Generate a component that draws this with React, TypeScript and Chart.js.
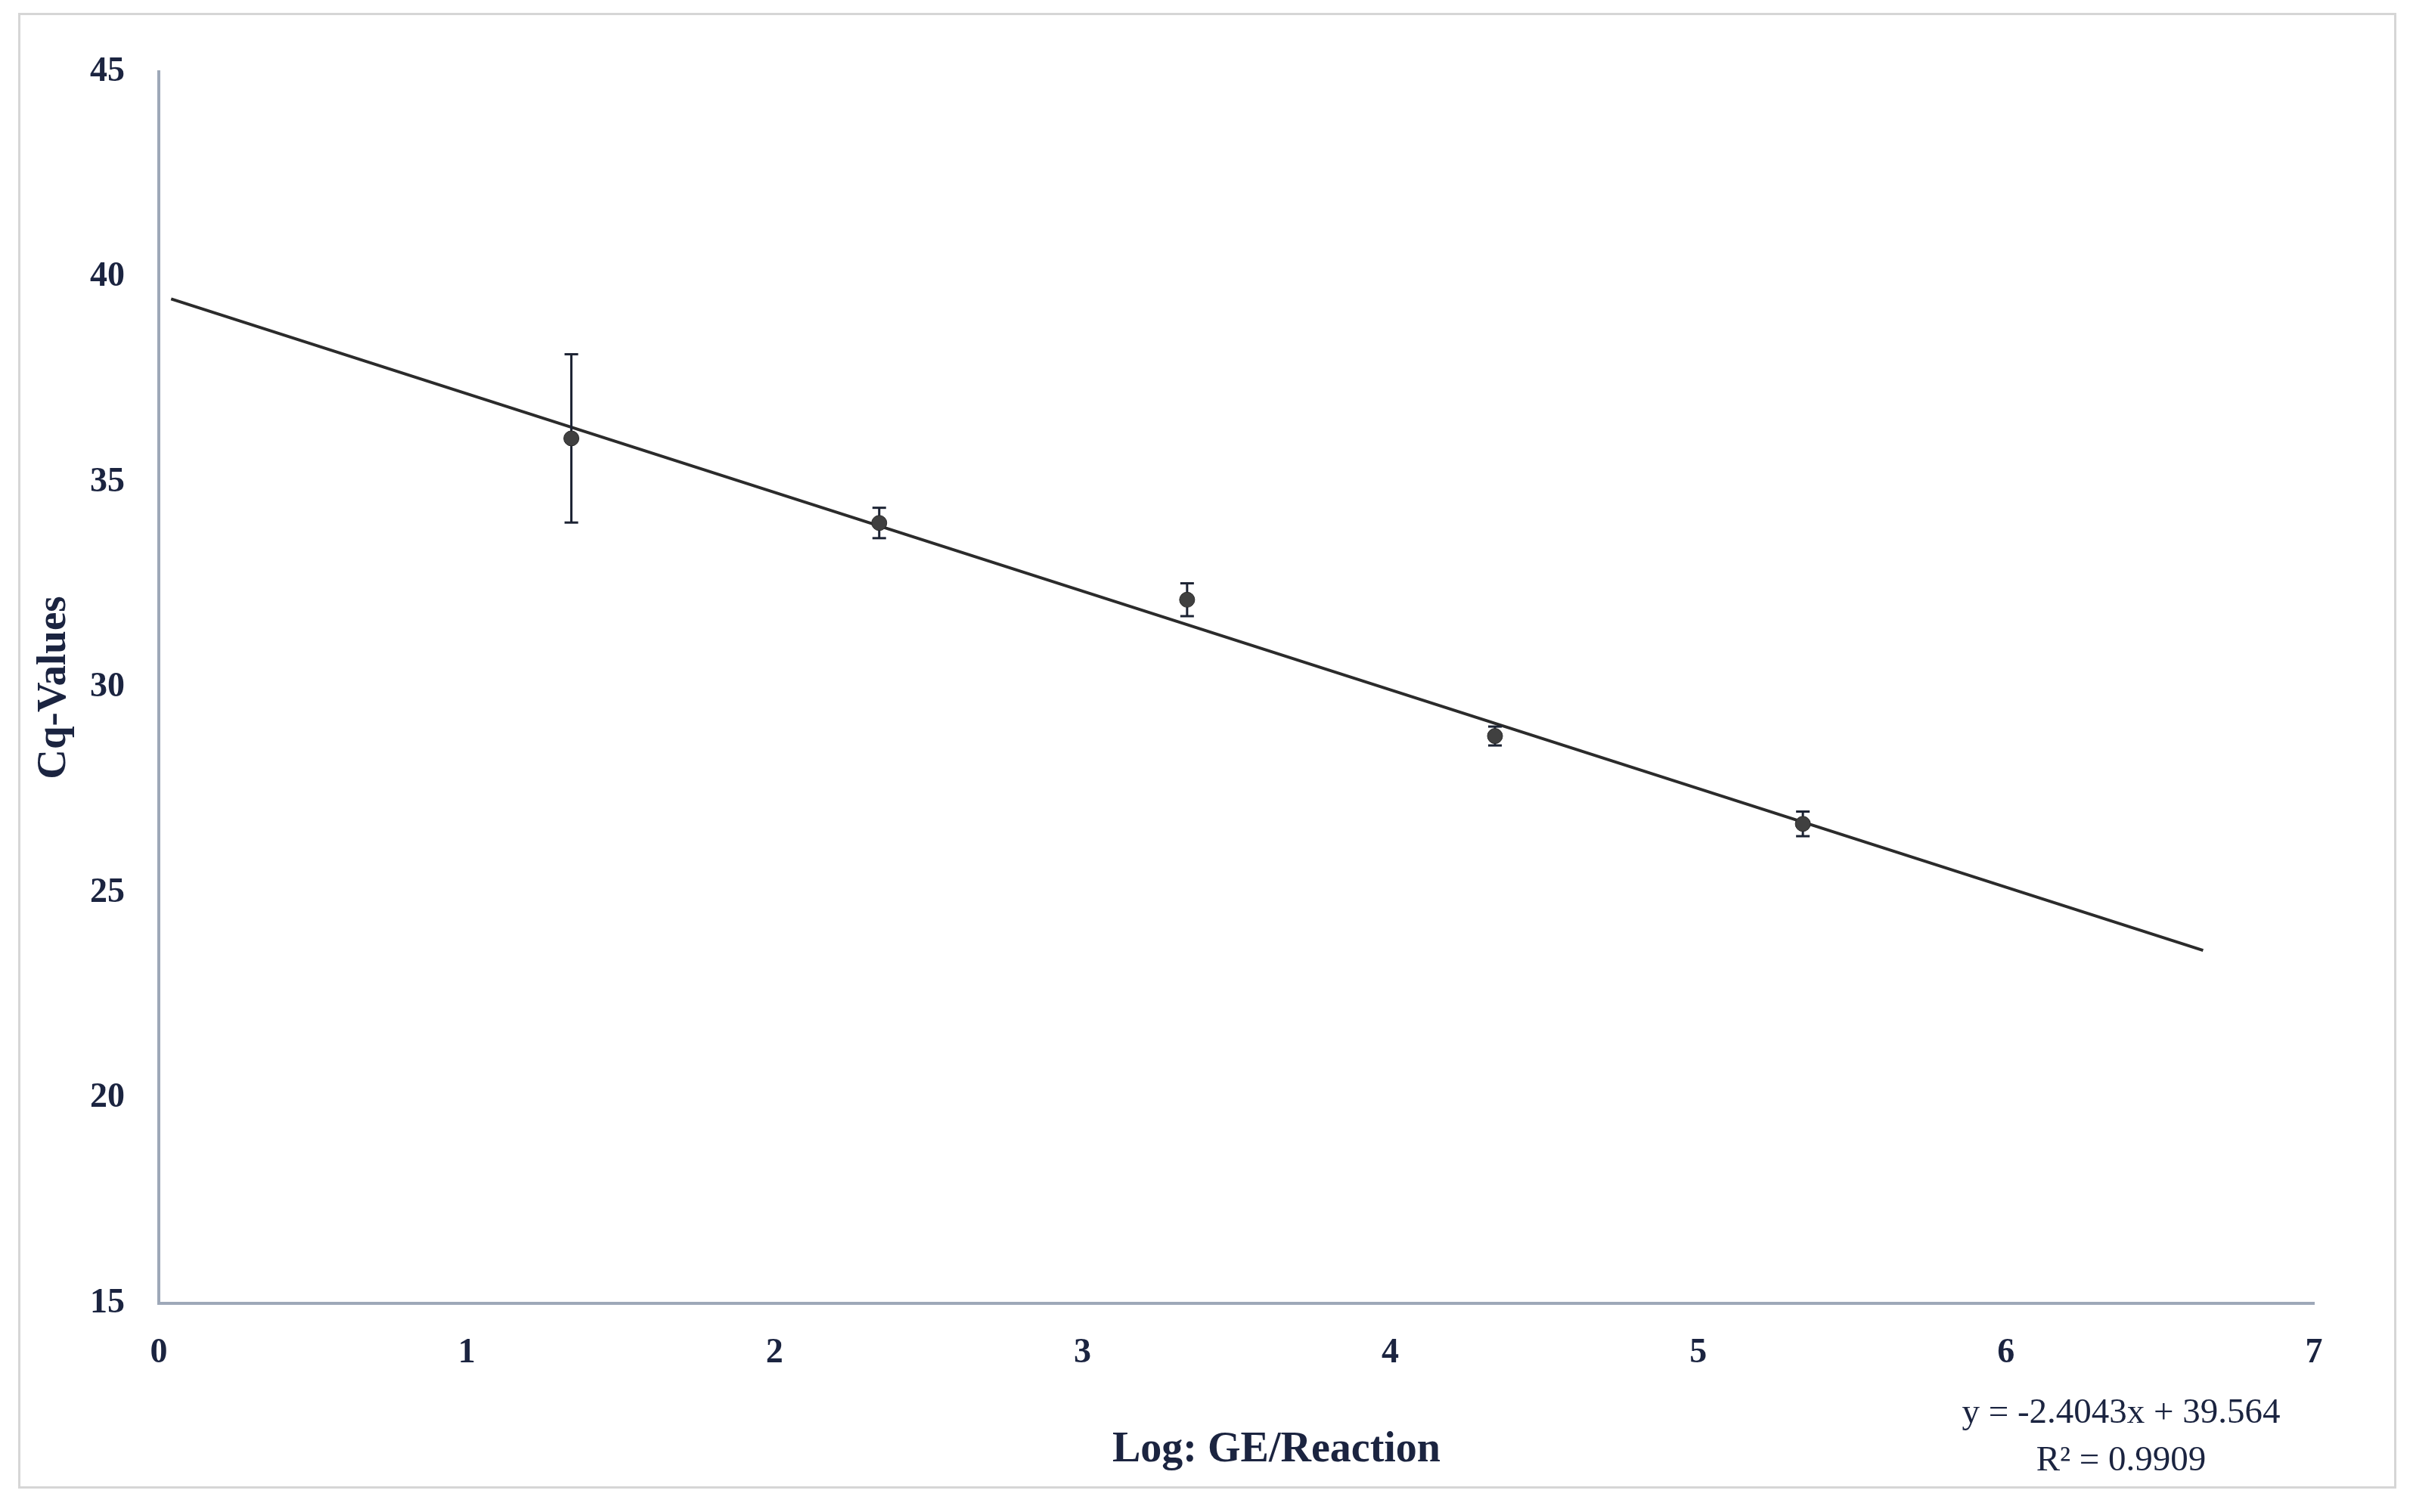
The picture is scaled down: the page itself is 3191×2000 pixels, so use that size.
import React, { useEffect, useRef } from "react";
import { Chart, registerables } from "chart.js";

Chart.register(...registerables);

// ---- data ----
const logGE = [1.34, 2.34, 3.34, 4.34, 5.34];
const cqMean = [36.07, 34.01, 32.14, 28.82, 26.68];
const cqError = [2.05, 0.37, 0.4, 0.23, 0.3];
const trendSlope = -2.4043;
const trendIntercept = 39.564;
const trendStartX = 0.04;
const trendEndX = 6.64;
const xAxisRange = [0, 7];
const yAxisRange = [15, 45];
const xTickStep = 1;
const yTickStep = 5;
const xTitleText = "Log: GE/Reaction";
const yTitleText = "Cq-Values";
const equationLines = ["y = -2.4043x + 39.564", "R² = 0.9909"];

const W = 3191;
const H = 2000;
const TEXT = "#1b2440";
const AXIS = "#9ea8b8";

const pointData = logGE.map((x, i) => ({ x, y: cqMean[i] }));
const errorData: { x: number; y: number | null }[] = [];
logGE.forEach((x, i) => {
  errorData.push({ x, y: cqMean[i] - cqError[i] });
  errorData.push({ x, y: cqMean[i] + cqError[i] });
  errorData.push({ x, y: null });
});
const trendData = [trendStartX, trendEndX].map((x) => ({
  x,
  y: trendSlope * x + trendIntercept,
}));

const decorPlugin = {
  id: "decor",
  beforeDraw(chart: any) {
    const ctx = chart.ctx;
    ctx.save();
    ctx.fillStyle = "#ffffff";
    ctx.fillRect(0, 0, W, H);
    ctx.strokeStyle = "#d6d6d6";
    ctx.lineWidth = 3;
    ctx.strokeRect(25.5, 18.5, 3167 - 25, 1967 - 18);
    ctx.restore();
  },
  afterDraw(chart: any) {
    const ctx = chart.ctx;
    ctx.save();
    ctx.fillStyle = TEXT;
    ctx.textAlign = "center";
    ctx.textBaseline = "alphabetic";
    ctx.font = 'bold 56px "Liberation Serif"';
    ctx.fillText(xTitleText, 1688, 1933);
    ctx.font = '47px "Liberation Serif"';
    ctx.fillText(equationLines[0], 2805, 1882);
    ctx.fillText(equationLines[1], 2805, 1945);
    ctx.restore();
  },
};

export default function App() {
  const ref = useRef<HTMLCanvasElement | null>(null);
  useEffect(() => {
    if (!ref.current) return;
    const chart = new Chart(ref.current, {
      type: "scatter",
      data: {
        datasets: [
          {
            label: "Cq",
            data: pointData,
            pointRadius: 10,
            pointBackgroundColor: "#404040",
            pointBorderColor: "#2a2a2a",
            pointBorderWidth: 1,
            showLine: false,
          } as any,
          {
            label: "SD",
            data: errorData,
            showLine: true,
            spanGaps: false,
            borderColor: "#1c2333",
            borderWidth: 3,
            pointStyle: "line",
            pointRadius: 9,
            pointBorderWidth: 3,
            pointBorderColor: "#1c2333",
          } as any,
          {
            label: "Trend",
            data: trendData,
            showLine: true,
            borderColor: "#2b2b2b",
            borderWidth: 4,
            pointRadius: 0,
          } as any,
        ],
      },
      options: {
        responsive: false,
        animation: false,
        devicePixelRatio: 1,
        layout: { padding: { left: 0, top: 95, right: 131, bottom: 0 } },
        plugins: {
          legend: { display: false },
          tooltip: { enabled: false },
        },
        scales: {
          x: {
            type: "linear",
            min: xAxisRange[0],
            max: xAxisRange[1],
            grid: { display: false, drawTicks: false },
            border: { display: true, color: AXIS, width: 4 },
            ticks: {
              stepSize: xTickStep,
              padding: 39,
              color: TEXT,
              font: { family: "Liberation Serif", size: 46, weight: "bold" },
            },
            afterFit: (s: any) => {
              s.height = 2000 - 1724;
              s.paddingLeft = 0;
              s.paddingRight = 0;
            },
          },
          y: {
            type: "linear",
            min: yAxisRange[0],
            max: yAxisRange[1],
            grid: { display: false, drawTicks: false },
            border: { display: true, color: AXIS, width: 4 },
            ticks: {
              stepSize: yTickStep,
              padding: 45,
              color: TEXT,
              font: { family: "Liberation Serif", size: 46, weight: "bold" },
            },
            title: {
              display: true,
              text: yTitleText,
              color: TEXT,
              font: { family: "Liberation Serif", size: 55, weight: "bold" },
              padding: { top: 39, bottom: 0 },
            },
            afterFit: (s: any) => {
              s.width = 210;
              s.paddingTop = 0;
              s.paddingBottom = 0;
            },
          },
        },
      } as any,
      plugins: [decorPlugin],
    });
    return () => chart.destroy();
  }, []);
  return (
    <div style={{ position: "absolute", left: 0, top: 0, width: W, height: H }}>
      <canvas ref={ref} width={W} height={H} style={{ display: "block" }} />
    </div>
  );
}
